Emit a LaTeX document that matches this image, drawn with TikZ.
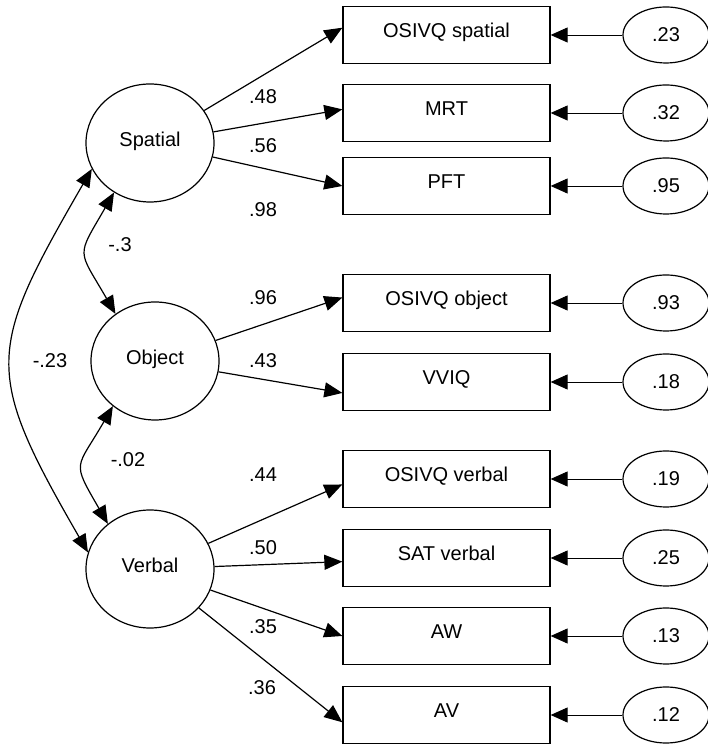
\documentclass[tikz,border=0pt]{standalone}
\usepackage{fontspec}
\setmainfont{Liberation Sans}
\usetikzlibrary{shapes.geometric, arrows.meta}
\tikzstyle{latent} = [
	ellipse,
	minimum width=128pt,
	minimum height=118pt,
	inner sep=0pt,
	text height=14.3pt,
	text depth=8pt,
	draw=black,
	line width=1.2pt
]
\tikzstyle{measure} = [
	rectangle,
	minimum width=207pt,
	minimum height=57pt,
	inner sep=0pt,
	text height=14.3pt,
	text depth=10pt,
	text centered,
	draw=black,
	line width=1.3pt
]
\tikzstyle{err} = [
	ellipse,
	minimum width=86pt,
	minimum height=56pt,
	inner sep=0pt,
	draw=black,
	line width=1.2pt
]
\tikzstyle{arrow} = [line width=1.2pt, -{Triangle[length=18pt,width=15pt]}]
\tikzstyle{errarrow} = [line width=0.9pt, -{Triangle[length=17pt,width=15pt]}]
\tikzstyle{corr} = [line width=1.2pt, {Triangle[length=18pt,width=15pt]}-{Triangle[length=18pt,width=15pt]}]

\begin{document}
\begin{tikzpicture}[x=1pt, y=1pt, font=\fontsize{20}{24}\selectfont]
        \useasboundingbox (0,0) rectangle (708,746);
        % factors
        \node (spatial) [latent] at (150,603) {Spatial};
        \node (object) [latent] at (155,385) {Object};
        \node (verbal) [latent] at (150,177) {Verbal};
        % measures
        \node (ospat) [measure] at (446.5,711) {OSIVQ spatial};
        \node (mrt) [measure] at (446.5,633) {MRT};
        \node (pft) [measure] at (446.5,560) {PFT};
        \node (oobj) [measure] at (446.5,443) {OSIVQ object};
        \node (vviq) [measure] at (446.5,364) {VVIQ};
        \node (overb) [measure] at (446.5,267) {OSIVQ verbal};
        \node (sat) [measure] at (446.5,188) {SAT verbal};
        \node (aw) [measure] at (446.5,110) {AW};
        \node (av) [measure] at (446.5,31) {AV};
        % errors
        \node (e1) [err] at (666,711) {.23};
        \node (e2) [err] at (666,633) {.32};
        \node (e3) [err] at (666,560) {.95};
        \node (e4) [err] at (666,443) {.93};
        \node (e5) [err] at (666,364) {.18};
        \node (e6) [err] at (666,267) {.19};
        \node (e7) [err] at (666,188) {.25};
        \node (e8) [err] at (666,110) {.13};
        \node (e9) [err] at (666,31) {.12};
        \draw [errarrow] (e1) -- (ospat);
        \draw [errarrow] (e2) -- (mrt);
        \draw [errarrow] (e3) -- (pft);
        \draw [errarrow] (e4) -- (oobj);
        \draw [errarrow] (e5) -- (vviq);
        \draw [errarrow] (e6) -- (overb);
        \draw [errarrow] (e7) -- (sat);
        \draw [errarrow] (e8) -- (aw);
        \draw [errarrow] (e9) -- (av);
        % loadings
        \draw [arrow] (spatial) -- (ospat.176);
        \draw [arrow] (spatial) -- (mrt.178);
        \draw [arrow] (spatial) -- (pft.west);
        \draw [arrow] (object) -- (oobj.177);
        \draw [arrow] (object) -- (vviq.186);
        \draw [arrow] (verbal) -- (overb.183);
        \draw [arrow] (verbal) -- (sat.182);
        \draw [arrow] (verbal) -- (aw.west);
        \draw [arrow] (verbal) -- (av.184);
        \node (l1) at (263,649) {.48};
        \node (l2) at (263,600) {.56};
        \node (l3) at (263,536) {.98};
        \node (l4) at (263,448) {.96};
        \node (l5) at (263,385) {.43};
        \node (l6) at (263,271) {.44};
        \node (l7) at (263,198) {.50};
        \node (l8) at (263,119) {.35};
        \node (l9) at (262,58) {.36};
        % correlations
        \draw [corr] (spatial.234) to[out=240, in=120, looseness=1.6] (object.130);
        \draw [corr] (object.227) to[out=240, in=120, looseness=1.6] (verbal.133);
        \draw [corr] (spatial.204) to[out=240, in=120, looseness=1.4] (verbal.165);
        \node (r1) at (120,501) {-.3};
        \node (r2) at (128,286) {-.02};
        \node (r3) at (50,385) {-.23};
      \end{tikzpicture}
\end{document}
